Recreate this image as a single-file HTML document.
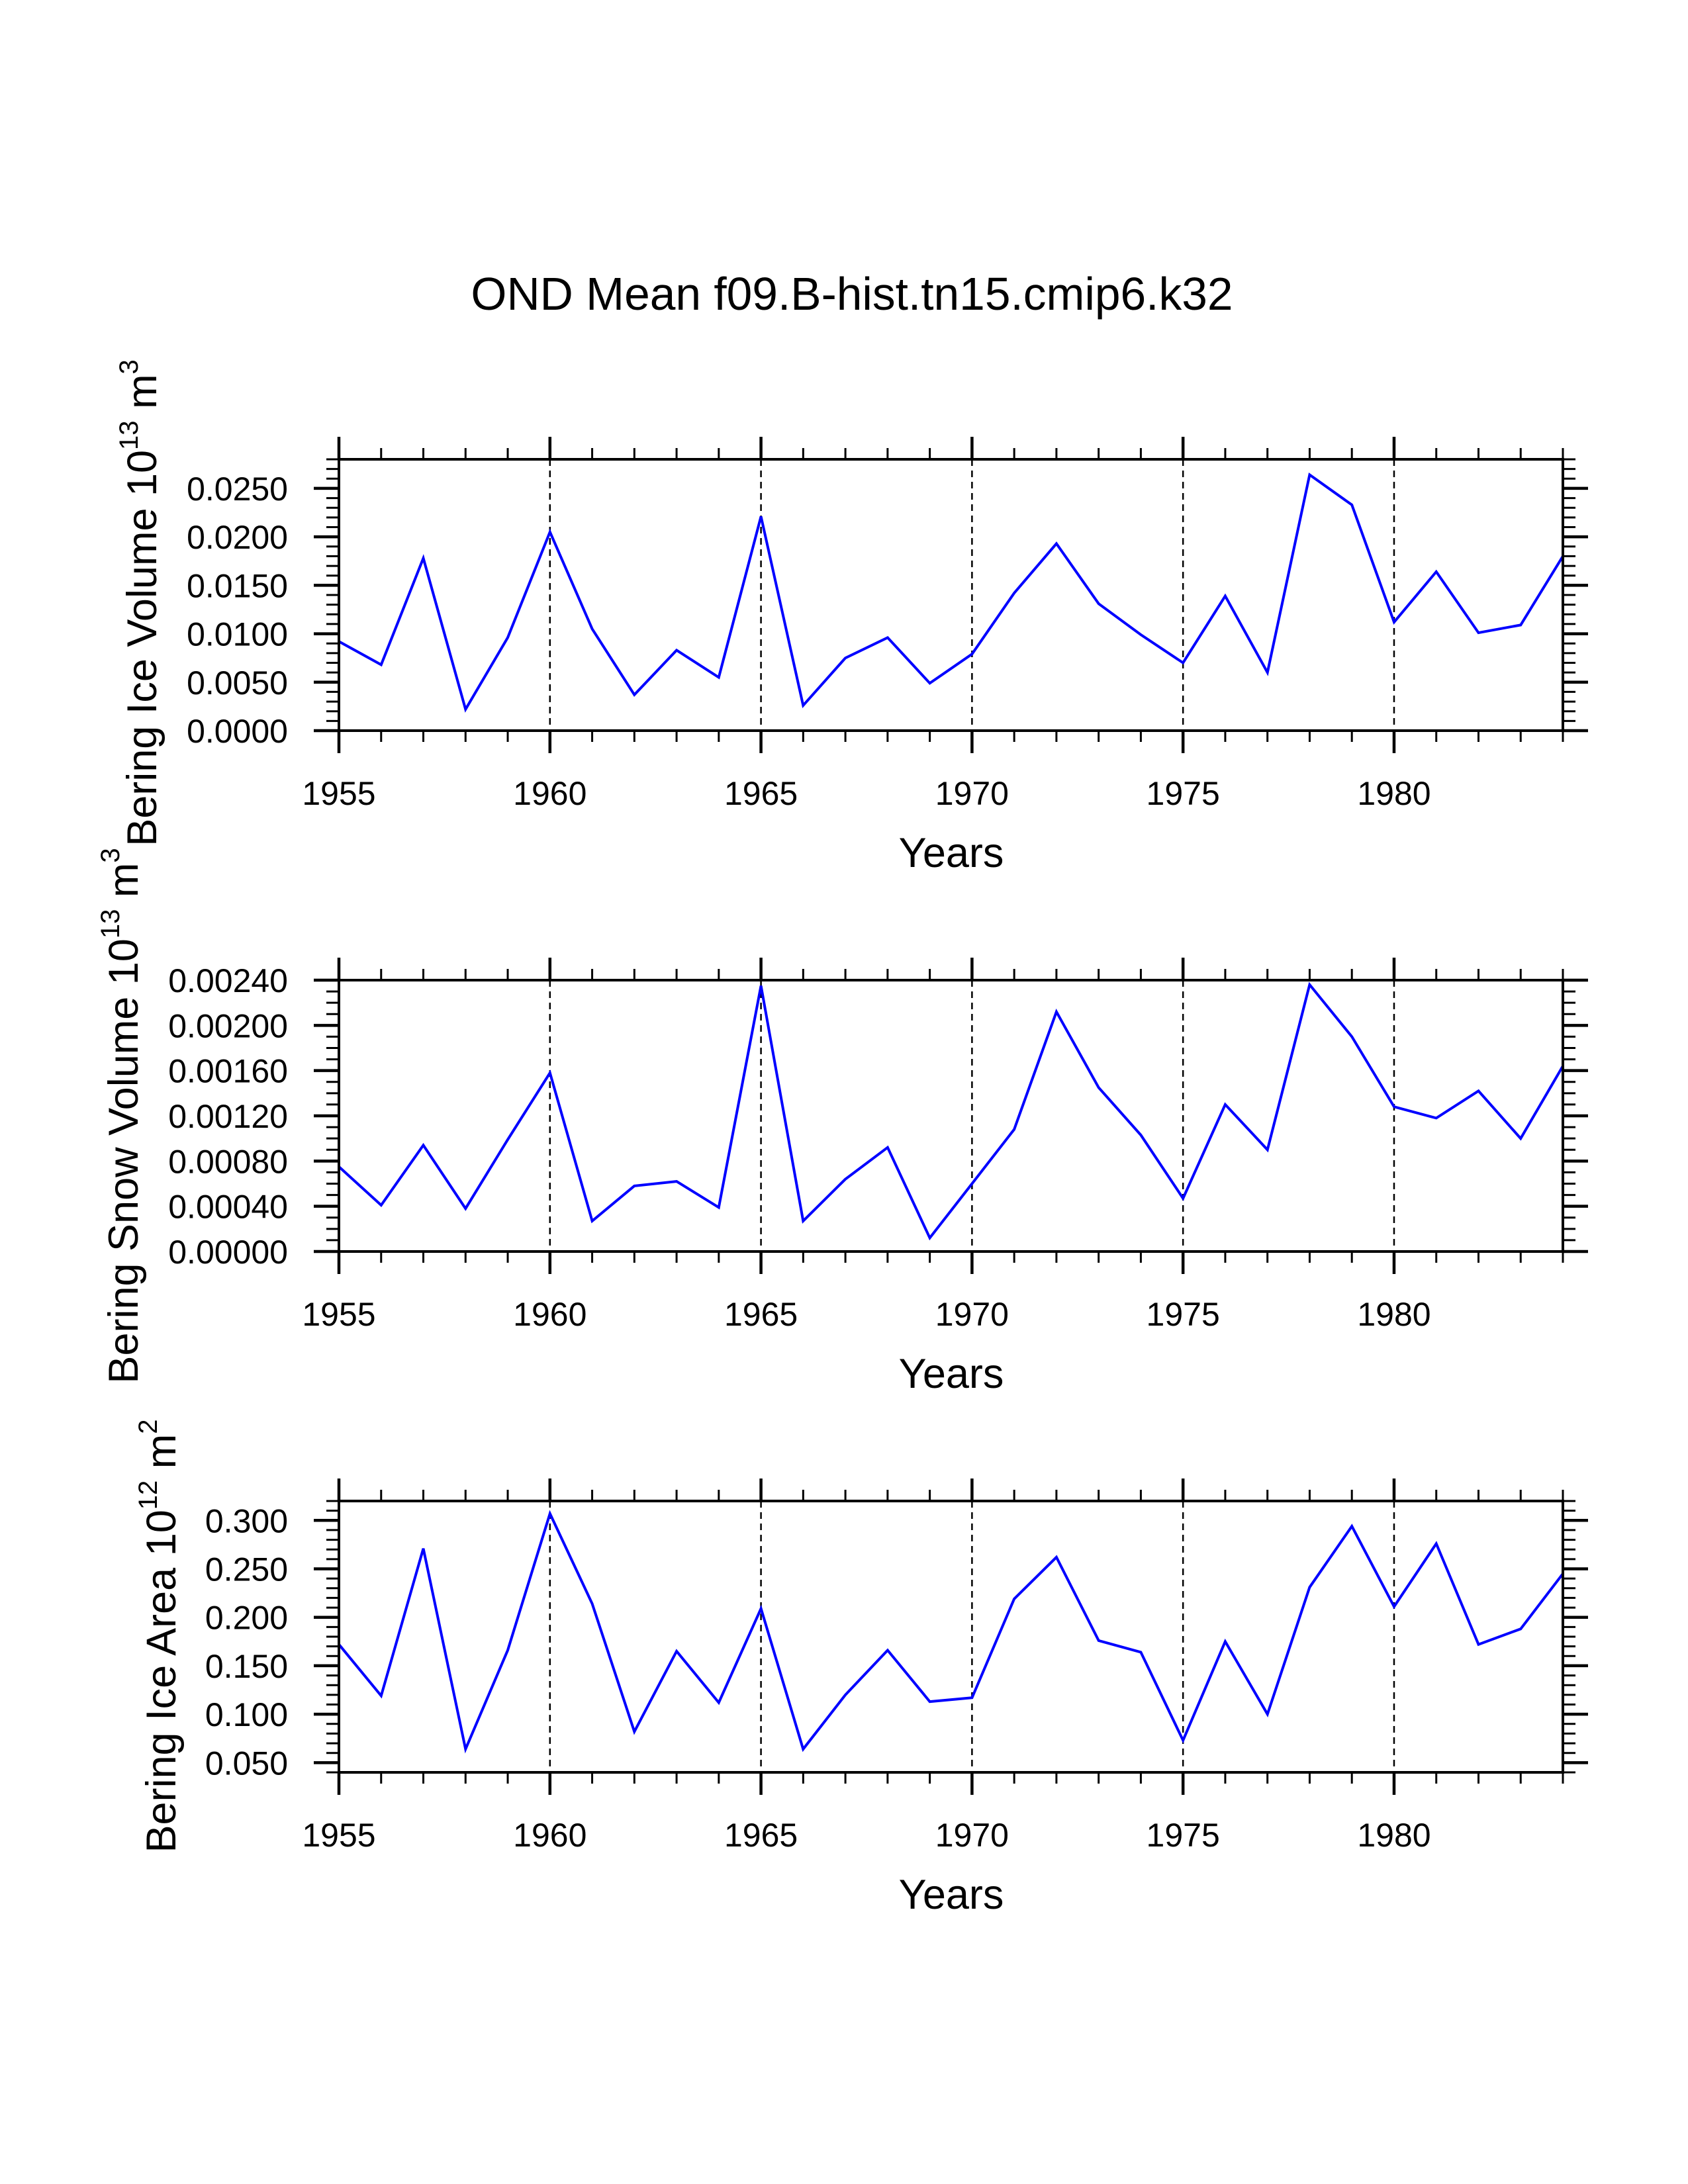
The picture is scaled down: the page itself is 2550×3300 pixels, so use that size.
<!DOCTYPE html>
<html><head><meta charset="utf-8">
<style>
html,body{margin:0;padding:0;background:#fff;}
svg{display:block;font-family:"Liberation Sans",Arial,sans-serif;}
</style></head>
<body>
<svg id="fig" width="2550" height="3300" viewBox="0 0 2550 3300" xmlns="http://www.w3.org/2000/svg">
<rect width="2550" height="3300" fill="#fff"/>
<text x="1287" y="468" font-size="69.5" text-anchor="middle">OND Mean f09.B-hist.tn15.cmip6.k32</text>
</svg>
<script>
const years = [1955,1956,1957,1958,1959,1960,1961,1962,1963,1964,1965,1966,1967,1968,1969,1970,1971,1972,1973,1974,1975,1976,1977,1978,1979,1980,1981,1982,1983,1984];
const iceVolume = [0.0092,0.0068,0.0178,0.0022,0.0096,0.0205,0.0105,0.0037,0.0083,0.0055,0.0221,0.0026,0.0075,0.0096,0.0049,0.0079,0.0142,0.0193,0.0131,0.0099,0.0070,0.0139,0.0060,0.0264,0.0233,0.0112,0.0164,0.0101,0.0109,0.0180];
const snowVolume = [0.00075,0.00041,0.00094,0.00038,0.00099,0.00158,0.00027,0.00058,0.00062,0.00039,0.00235,0.00027,0.00064,0.00092,0.00012,0.00060,0.00108,0.00212,0.00145,0.00103,0.00047,0.00130,0.00090,0.00236,0.00190,0.00128,0.00118,0.00142,0.00100,0.00164];
const iceArea = [0.172,0.119,0.271,0.064,0.166,0.307,0.214,0.082,0.165,0.112,0.209,0.064,0.120,0.166,0.113,0.117,0.219,0.262,0.176,0.164,0.073,0.175,0.100,0.231,0.294,0.211,0.276,0.172,0.188,0.245];
const xTickLabels = ["1955","1960","1965","1970","1975","1980"];
const iceVolumeTicks = ["0.0000","0.0050","0.0100","0.0150","0.0200","0.0250"];
const snowVolumeTicks = ["0.00000","0.00040","0.00080","0.00120","0.00160","0.00200","0.00240"];
const iceAreaTicks = ["0.050","0.100","0.150","0.200","0.250","0.300"];

const NS = "http://www.w3.org/2000/svg";
const svg = document.getElementById('fig');
function mk(tag, attrs, parent){const e=document.createElementNS(NS,tag);for(const k in attrs)e.setAttribute(k,attrs[k]);(parent||svg).appendChild(e);return e;}

const X0=512, X1=2361, Y0=1955, Y1=1984;
const xs = y => X0 + (y - Y0)/(Y1 - Y0)*(X1 - X0);

function panel(cfg){
  const g = mk('g',{});
  
  
  const top=cfg.top, bot=cfg.top+410;
  const ys = v => bot - (v - cfg.ymin)/(cfg.ymax - cfg.ymin)*(bot-top);
  for (let y=1960; y<=1980; y+=5){
    const l = mk('line',{x1:xs(y),x2:xs(y),y1:top,y2:bot,stroke:'#000','stroke-width':2.5,'stroke-dasharray':'10 7'},g);
    
    
  }
  const pts = years.map((y,i)=>xs(y).toFixed(1)+','+ys(cfg.data[i]).toFixed(1)).join(' ');
  const pl = mk('polyline',{points:pts,fill:'none',stroke:'#0000ff','stroke-width':4,'stroke-linejoin':'miter'},g);
  
  
  const fr = mk('rect',{x:X0,y:top,width:X1-X0,height:bot-top,fill:'none',stroke:'#000','stroke-width':4},g);
  
  
  for (let y=Y0; y<=Y1; y++){
    const major = (y%5===0); const L = major?34:17; const w = major?4.5:3;
    mk('line',{x1:xs(y),x2:xs(y),y1:top,y2:top-L,stroke:'#000','stroke-width':w},g);
    mk('line',{x1:xs(y),x2:xs(y),y1:bot,y2:bot+L,stroke:'#000','stroke-width':w},g);
  }
  xTickLabels.forEach(s=>{
    const t = mk('text',{x:xs(+s),y:bot+112,'font-size':50,'text-anchor':'middle'},g);
    t.textContent = s;
    
    
  });
  const n = Math.round((cfg.ymax-cfg.ymin)/cfg.minor);
  for (let i=0;i<=n;i++){
    const v = cfg.ymin + i*cfg.minor; const yy = ys(v);
    const isMaj = cfg.ticks.some(s=>Math.abs(parseFloat(s)-v)<cfg.minor/10);
    const L = isMaj?38:19; const w = isMaj?4.5:3;
    mk('line',{x1:X0,x2:X0-L,y1:yy,y2:yy,stroke:'#000','stroke-width':w},g);
    mk('line',{x1:X1,x2:X1+L,y1:yy,y2:yy,stroke:'#000','stroke-width':w},g);
  }
  cfg.ticks.forEach(s=>{
    const t = mk('text',{x:435,y:ys(parseFloat(s))+18,'font-size':50,'text-anchor':'end'},g);
    t.textContent = s;
    
    
  });
  const xt = mk('text',{x:1437,y:bot+206,'font-size':63,'text-anchor':'middle'},g);
  xt.textContent='Years';
  
  
  const yt = mk('text',{transform:`translate(${cfg.lx},${cfg.ly}) rotate(-90)`,'font-size':63,'text-anchor':'middle'},g);
  
  
  const p = cfg.label;
  const a = mk('tspan',{},yt); a.textContent = p[0]+' 10';
  const b = mk('tspan',{dy:-28,'font-size':40},yt); b.textContent = p[1];
  const c = mk('tspan',{dy:28},yt); c.textContent = ' m';
  const d = mk('tspan',{dy:-28,'font-size':40},yt); d.textContent = p[2];
}

panel({name:'ice-volume-panel',top:694,ymin:0,ymax:0.028,minor:0.001,data:iceVolume,ticks:iceVolumeTicks,lx:236,ly:911,label:['Bering Ice Volume','13','3']});
panel({name:'snow-volume-panel',top:1481,ymin:0,ymax:0.0024,minor:0.0001,data:snowVolume,ticks:snowVolumeTicks,lx:208,ly:1686,label:['Bering Snow Volume','13','3']});
panel({name:'ice-area-panel',top:2268,ymin:0.04,ymax:0.32,minor:0.01,data:iceArea,ticks:iceAreaTicks,lx:265,ly:2472,label:['Bering Ice Area','12','2']});
</script>
</body></html>
